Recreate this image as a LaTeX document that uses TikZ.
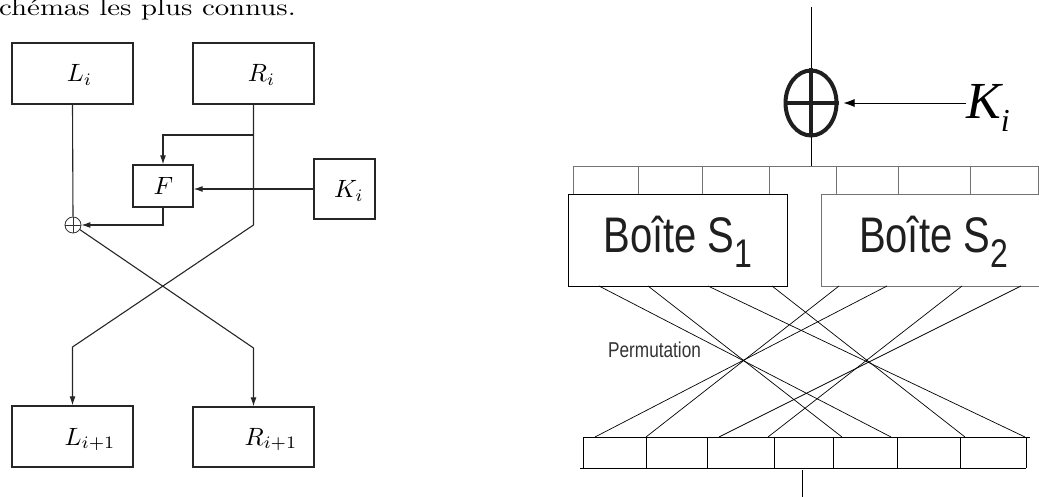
\documentclass[tikz,border=0pt]{standalone}
\usepackage{fontspec}
\usetikzlibrary{arrows.meta,shapes.geometric}
\newfontfamily\boxfont[FakeStretch=0.8]{Liberation Sans}
\newfontfamily\keyfont{Liberation Serif}
\colorlet{regcol}{black!55}
\newcommand{\feistlab}[1]{\scalebox{2.5}{$#1$}}

\begin{document}
\begin{tikzpicture}[x=1pt,y=-1pt,
    blk/.style={rectangle, draw=black!85, line width=1.3pt, inner sep=0pt},
    lab/.style={inner sep=0pt, anchor=base},
    flow/.style={-{Latex[length=9pt,width=6pt]}, line width=1.1pt, draw=black!85},
    wire/.style={line width=1.1pt, draw=black!85},
    thinl/.style={line width=0.9pt},
    sbox/.style={rectangle, draw, line width=0.9pt, inner sep=0pt, minimum width=219pt, minimum height=92pt},
    stext/.style={inner sep=0pt, anchor=base, text=black!88, font=\boxfont\fontsize{50}{50}\selectfont}
]
\useasboundingbox (0,0) rectangle (1039,497);

\node[anchor=base west, inner sep=0pt] (intro) at (-1,16) {\scalebox{2.88}[2.35]{chémas les plus connus.}};

% tour de Feistel
\node[blk, minimum width=121pt, minimum height=61pt] (Li) at (72.5,73.5) {};
\node[blk, minimum width=121pt, minimum height=61pt] (Ri) at (253.5,73.5) {};
\node[blk, minimum width=60pt, minimum height=42pt] (F) at (163,186) {};
\node[blk, minimum width=61pt, minimum height=60pt] (Kb) at (344.5,189) {};
\node[blk, minimum width=121pt, minimum height=61pt] (Li1) at (72.5,436.5) {};
\node[blk, minimum width=121pt, minimum height=60pt] (Ri1) at (253.5,437) {};

\node[lab] (LiT) at (79.5,82) {\feistlab{L_i}};
\node[lab] (RiT) at (261.5,82) {\feistlab{R_i}};
\node[lab] (FT) at (163.5,195) {\feistlab{F}};
\node[lab] (KbT) at (349,198) {\feistlab{K_i}};
\node[lab] (Li1T) at (90,445) {\feistlab{L_{i+1}}};
\node[lab] (Ri1T) at (271,445) {\feistlab{R_{i+1}}};

\node[circle, draw=black!80, line width=0.8pt, minimum size=16pt, inner sep=0pt] (xl) at (73,225) {};
\draw[line width=0.8pt, black!80] (xl.north) -- (xl.south) (xl.west) -- (xl.east);

\coordinate (rbr) at (253.5,135);
\coordinate (rk) at (253.5,225);
\coordinate (lk) at (72.5,347);
\coordinate (rl) at (253.5,348);

\draw[wire] (Li.south) -- (xl.north);
\draw[flow] (Ri.south) -- (rk) -- (lk) -- (Li1.north);
\draw[flow] (rbr) -| (F.north);
\draw[flow] (Kb.west) -- (Kb.west -| F.east);
\draw[flow] (F.south) |- (xl.east);
\draw[flow] (xl.-34) -- (rl) -- (Ri1.north);

% S-boites
\coordinate (intop) at (811,7);
\coordinate (regin) at (811,166);
\node[ellipse, draw=black!88, line width=4pt, minimum width=51pt, minimum height=65pt, inner sep=0pt] (X) at (811,103) {};
\draw[line width=4pt, black!88] (X.north) -- (X.south) (X.west) -- (X.east);
\node[anchor=base west, inner sep=0pt] (Kr) at (966,119)
    {\keyfont\itshape\fontsize{52}{52}\selectfont K\raisebox{-13pt}{\fontsize{32}{32}\selectfont i}};
\draw[thinl] (intop) -- (X.north);
\draw[-{Latex[length=11pt,width=8pt]}, thinl] (Kr.west |- X.east) -- ([xshift=5pt]X.east);
\draw[thinl] (X.south) -- (regin);

\draw[thinl, regcol] (573,166) -- (1038,166);
\foreach \x in {573,638,702,769,836,898,970,1038}
    \draw[thinl, regcol] (\x,166) -- (\x,194);

\node[sbox] (S1) at (677.5,240) {};
\node[sbox, draw=regcol, minimum width=224pt] (S2) at (933,240) {};
\node[stext] (S1T) at (678,253) {Boîte S\raisebox{-14pt}{\fontsize{40}{40}\selectfont 1}};
\node[stext] (S2T) at (933.5,253) {Boîte S\raisebox{-14pt}{\fontsize{40}{40}\selectfont 2}};

\foreach \a/\b in {599/891,648/842,708/1025,772/965,839/646,887/595,962/768,1021/719}
    \draw[line width=0.7pt] (\a,286) -- (\b,437);

\node[anchor=base west, inner sep=0pt, text=black!80, font=\boxfont\fontsize{21.5}{21.5}\selectfont] (perm) at (608,357) {Permutation};

\draw[thinl] (583,437) -- (1030,437);
\draw[thinl] (580,468) -- (1026,468);
\foreach \x in {583,646,707,774,833,897,960,1026}
    \draw[thinl] (\x,437) -- (\x,468);
\draw[thinl] (802,470) -- (802,497);

\end{tikzpicture}
\end{document}
